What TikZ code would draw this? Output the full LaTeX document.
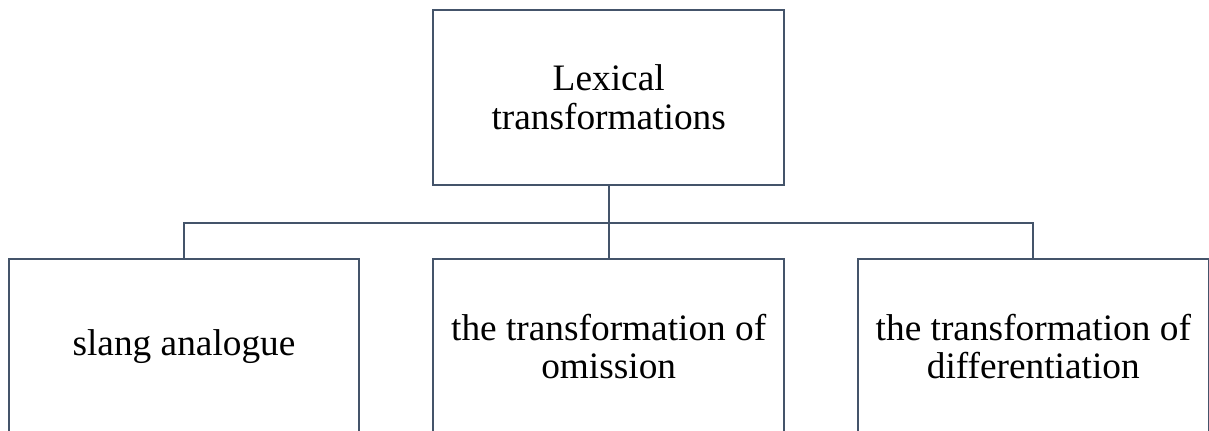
\documentclass[tikz,border=0pt]{standalone}
\usepackage{fontspec}
\setmainfont{Liberation Serif}
\definecolor{linec}{HTML}{44546A}
\begin{document}
\begin{tikzpicture}[x=0.75pt,y=-0.75pt,
  box/.style={draw=linec, line width=1.4pt, rectangle, minimum width=263pt, minimum height=131pt,
    align=center, inner sep=0pt,
    font=\fontsize{28}{29}\selectfont, text=black},
  conn/.style={draw=linec, line width=1.4pt}]
\useasboundingbox (0,0) rectangle (1209,430);
\begin{scope}
\clip (0,0) rectangle (1209,430);
\node[box] (top) at (608.7,97.5) {Lexical\\transformations};
\node[box] (left) at (184,346.5) {slang analogue};
\node[box] (mid) at (608.7,346.5) {the transformation of\\omission};
\node[box] (right) at (1033.3,346.5) {the transformation of\\differentiation};
\coordinate (bar) at (608.7,223.3);
\draw[conn] (top.south) -- (mid.north);
\draw[conn] (left.north) -- (left.north |- bar) -- (right.north |- bar) -- (right.north);
\end{scope}
\end{tikzpicture}
\end{document}
